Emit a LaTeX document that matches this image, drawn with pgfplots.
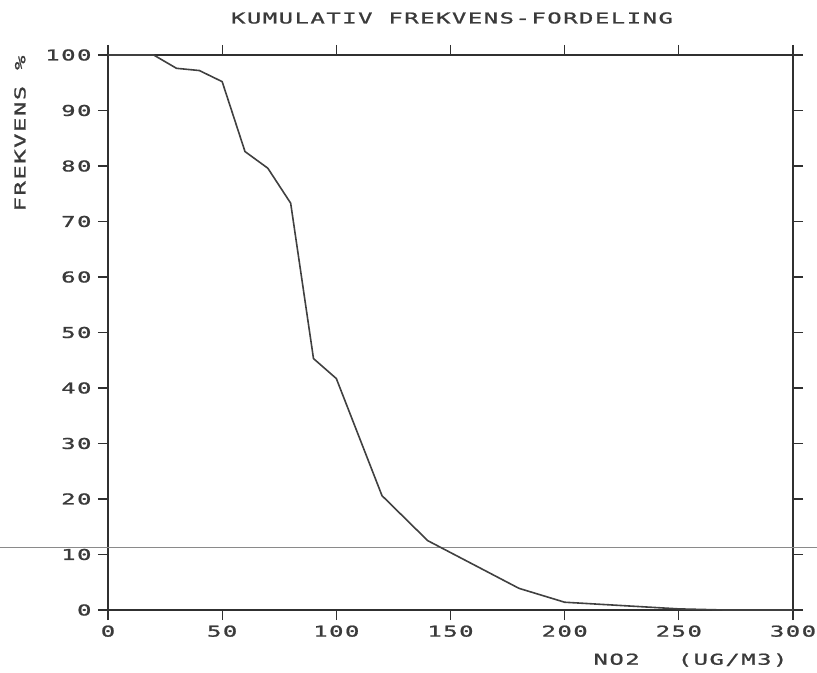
\documentclass[border=0pt]{standalone}
\usepackage{pgfplots}
\pgfplotsset{compat=1.18}
\usepackage{fontspec}
\setmainfont{DejaVu Sans Mono}[FakeStretch=1.6, LetterSpace=10, FakeBold=1.2]
\definecolor{axcol}{HTML}{303030}
\definecolor{curvecol}{HTML}{404040}
\definecolor{refcol}{HTML}{8A8A8A}
\definecolor{txtcol}{HTML}{3A3A3A}
\begin{document}
\begin{tikzpicture}
\useasboundingbox (0,0) rectangle (817bp,673bp);
\begin{axis}[
  at={(108bp,63bp)}, anchor=south west,
  width=685bp, height=555bp, scale only axis,
  xmin=0, xmax=300, ymin=0, ymax=100,
  xtick={0,50,...,300}, ytick={0,10,...,100},
  tick align=outside, tick pos=both,
  major tick length=10bp,
  axis line style={line width=1.3bp, color=axcol},
  every tick/.style={line width=1.3bp, color=axcol},
  tick label style={font=\fontsize{15}{15}\selectfont, text=txtcol},
  yticklabel style={xshift=-3bp},
  xticklabel style={yshift=-2bp},
  /pgf/number format/assume math mode=true,
  clip=false,
]
\addplot[color=refcol, line width=1bp] coordinates {(-47.3,11.2) (310.5,11.2)};
\addplot[color=curvecol, line width=1.6bp] coordinates {
(0,100) (20,100) (30,97.6) (40,97.2) (50,95.2) (60,82.6) (70,79.6) (80,73.3)
(90,45.3) (100,41.7) (120,20.6) (140,12.5) (180,3.9) (200,1.4) (250,0.2) (270,0) (300,0)};
\end{axis}
\node[font=\fontsize{15}{15}\selectfont, text=txtcol] at (452bp,655bp) {KUMULATIV FREKVENS-FORDELING};
\node[font=\fontsize{15}{15}\selectfont, text=txtcol, rotate=90, anchor=east] at (20bp,621bp) {FREKVENS \%};
\node[font=\fontsize{15}{15}\selectfont, text=txtcol, anchor=east] at (791bp,13bp) {NO2\hspace{38bp}(UG/M3)};
\end{tikzpicture}
\end{document}
